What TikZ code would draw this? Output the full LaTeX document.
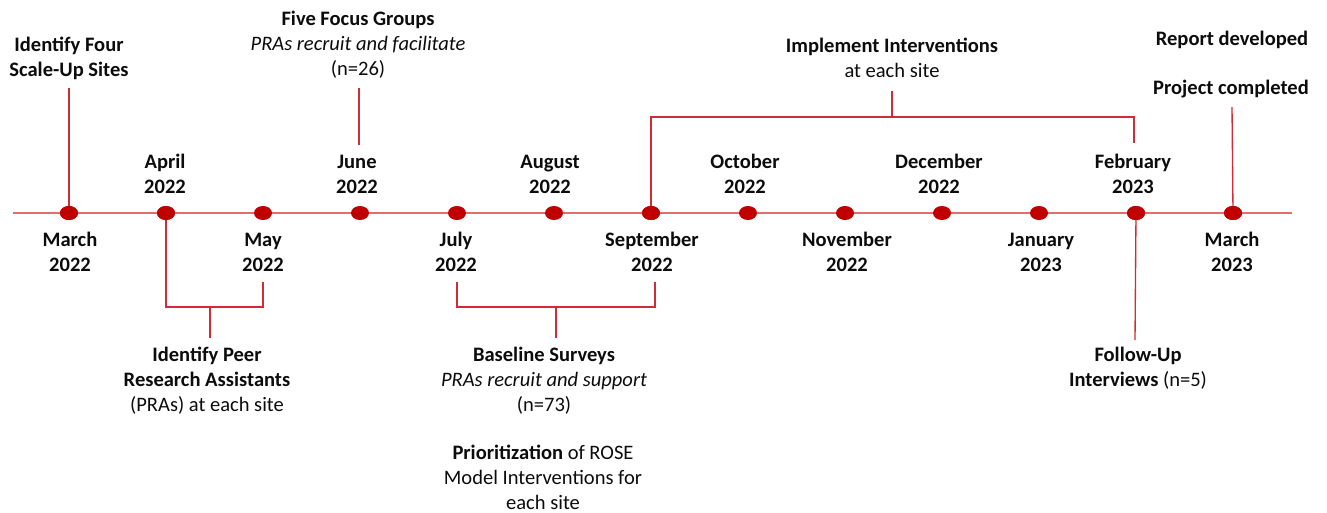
\documentclass[tikz,border=0pt]{standalone}
\usepackage{fontspec}
\setmainfont{Carlito}
\usetikzlibrary{shapes.geometric}
\definecolor{axisred}{RGB}{226,108,110}
\definecolor{linkred}{RGB}{206,44,56}
\definecolor{dotred}{RGB}{192,0,0}
\definecolor{ink}{RGB}{12,12,12}
\begin{document}
\begin{tikzpicture}[x=0.75pt,y=-0.75pt,
  lbl/.style={align=center,inner sep=0pt,text=ink,
    font=\fontsize{15.4}{18.75}\selectfont},
  month/.style={lbl,font=\fontsize{15.4}{18.75}\selectfont\bfseries},
  dot/.style={ellipse,fill=dotred,draw=none,minimum width=13.5pt,minimum height=10.5pt,inner sep=0pt},
  axis/.style={draw=axisred,line width=1.5pt},
  conn/.style={draw=linkred,line width=1pt}]
\useasboundingbox (0,0) rectangle (1327,512);

% time axis
\coordinate (axL) at (13,213);
\coordinate (axR) at (1292,213);
\draw[axis] (axL) -- (axR);

% month markers
\foreach \i in {1,...,13}{
  \node[dot] (d\i) at ({69+97*(\i-1)},213) {};
}

% month labels above the axis
\node[month] (m2)  at (165,174) {April\\2022};
\node[month] (m4)  at (357,174) {June\\2022};
\node[month] (m6)  at (550,174) {August\\2022};
\node[month] (m8)  at (745,174) {October\\2022};
\node[month] (m10) at (939,174) {December\\2022};
\node[month] (m12) at (1133,174) {February\\2023};
% month labels below the axis
\node[month] (m1)  at (70,252) {March\\2022};
\node[month] (m3)  at (263,252) {May\\2022};
\node[month] (m5)  at (456,252) {July\\2022};
\node[month] (m7)  at (652,252) {September\\2022};
\node[month] (m9)  at (847,252) {November\\2022};
\node[month] (m11) at (1041,252) {January\\2023};
\node[month] (m13) at (1232,252) {March\\2023};

% activity labels
\node[lbl] (sites) at (69,58) {\textbf{Identify Four}\\\textbf{Scale-Up Sites}};
\node[lbl] (focus) at (358,45) {\textbf{Five Focus Groups}\\\textit{PRAs recruit and facilitate}\\(n=26)};
\node[lbl] (impl) at (892,58) {\textbf{Implement Interventions}\\at each site};
\node[lbl] (report) at (1232,40) {\textbf{Report developed}};
\node[lbl] (project) at (1231,89) {\textbf{Project completed}};
\node[lbl] (pra) at (207,381) {\textbf{Identify Peer}\\\textbf{Research Assistants}\\(PRAs) at each site};
\node[lbl] (base) at (544,381) {\textbf{Baseline Surveys}\\\textit{PRAs recruit and support}\\(n=73)};
\node[lbl] (prior) at (543,477) {\textbf{Prioritization} of ROSE\\Model Interventions for\\each site};
\node[lbl] (follow) at (1138,368) {\textbf{Follow-Up}\\\textbf{Interviews} (n=5)};

% connector end points
\coordinate (sitesEnd) at (69,88);
\coordinate (praJoin) at (210,307);
\coordinate (praEnd) at (210,338);
\coordinate (mayEnd) at (263,282);
\coordinate (focusTop) at (359,88);
\coordinate (focusBot) at (359,145);
\coordinate (julEnd) at (457,282);
\coordinate (sepEnd) at (655,282);
\coordinate (baseJoin) at (556,307);
\coordinate (baseEnd) at (556,338);
\coordinate (implJoin) at (892,117);
\coordinate (implEnd) at (892,91);
\coordinate (febEnd) at (1134,143);
\coordinate (followEnd) at (1135,340);
\coordinate (reportEnd) at (1232,107);

% connectors
\draw[conn] (d1.center) -- (sitesEnd);
\draw[conn] (d2.center) |- (praJoin -| mayEnd) -- (mayEnd);
\draw[conn] (praJoin) -- (praEnd);
\draw[conn] (focusTop) -- (focusBot);
\draw[conn] (julEnd) |- (baseJoin) -| (sepEnd);
\draw[conn] (baseJoin) -- (baseEnd);
\draw[conn] (d7.center) |- (implJoin) -| (febEnd);
\draw[conn] (implJoin) -- (implEnd);
\draw[conn] (d12.center) -- (followEnd);
\draw[conn] (d13.center) -- (reportEnd);

% redraw markers on top of the connectors
\foreach \i in {1,2,7,12,13}{
  \node[dot] at (d\i) {};
}
\end{tikzpicture}
\end{document}
